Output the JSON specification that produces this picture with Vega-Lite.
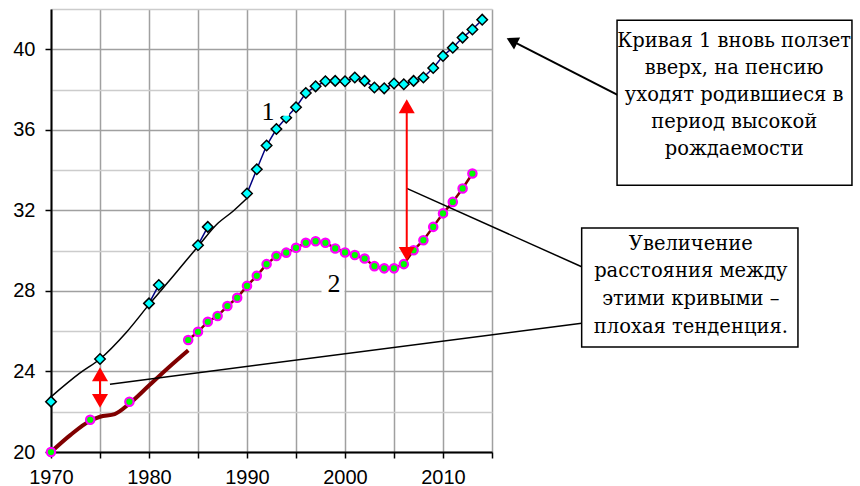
{
  "$schema": "https://vega.github.io/schema/vega-lite/v6.json",
  "width": 441,
  "height": 443,
  "autosize": "none",
  "padding": {"left": 51, "top": 9, "right": 368, "bottom": 34},
  "background": "white",
  "config": {"view": {"stroke": null}, "font": "Liberation Sans"},
  "datasets": {
    "s1": [
      {"x": 1970, "y": 22.5, "g": null},
      {"x": 1975, "y": 24.62, "g": null},
      {"x": 1980, "y": 27.38, "g": "a"},
      {"x": 1981, "y": 28.29, "g": "a"},
      {"x": 1985, "y": 30.27, "g": "b"},
      {"x": 1986, "y": 31.18, "g": "b"},
      {"x": 1990, "y": 32.84, "g": "c"},
      {"x": 1991, "y": 34.04, "g": "c"},
      {"x": 1992, "y": 35.22, "g": "c"},
      {"x": 1993, "y": 36.04, "g": "c"},
      {"x": 1994, "y": 36.6, "g": "c"},
      {"x": 1995, "y": 37.12, "g": "c"},
      {"x": 1996, "y": 37.83, "g": "c"},
      {"x": 1997, "y": 38.16, "g": "c"},
      {"x": 1998, "y": 38.41, "g": "c"},
      {"x": 1999, "y": 38.43, "g": "c"},
      {"x": 2000, "y": 38.41, "g": "c"},
      {"x": 2001, "y": 38.6, "g": "c"},
      {"x": 2002, "y": 38.43, "g": "c"},
      {"x": 2003, "y": 38.1, "g": "c"},
      {"x": 2004, "y": 38.06, "g": "c"},
      {"x": 2005, "y": 38.3, "g": "c"},
      {"x": 2006, "y": 38.26, "g": "c"},
      {"x": 2007, "y": 38.43, "g": "c"},
      {"x": 2008, "y": 38.6, "g": "c"},
      {"x": 2009, "y": 39.07, "g": "c"},
      {"x": 2010, "y": 39.67, "g": "c"},
      {"x": 2011, "y": 40.08, "g": "c"},
      {"x": 2012, "y": 40.58, "g": "c"},
      {"x": 2013, "y": 40.98, "g": "c"},
      {"x": 2014, "y": 41.47, "g": "c"}
    ],
    "s2": [
      {"x": 1970, "y": 20.0, "g": null},
      {"x": 1974, "y": 21.6, "g": null},
      {"x": 1978, "y": 22.5, "g": null},
      {"x": 1984, "y": 25.56, "g": "a"},
      {"x": 1985, "y": 25.97, "g": "a"},
      {"x": 1986, "y": 26.47, "g": "a"},
      {"x": 1987, "y": 26.75, "g": "a"},
      {"x": 1988, "y": 27.25, "g": "a"},
      {"x": 1989, "y": 27.66, "g": "a"},
      {"x": 1990, "y": 28.25, "g": "a"},
      {"x": 1991, "y": 28.75, "g": "a"},
      {"x": 1992, "y": 29.33, "g": "a"},
      {"x": 1993, "y": 29.73, "g": "a"},
      {"x": 1994, "y": 29.9, "g": "a"},
      {"x": 1995, "y": 30.14, "g": "a"},
      {"x": 1996, "y": 30.39, "g": "a"},
      {"x": 1997, "y": 30.47, "g": "a"},
      {"x": 1998, "y": 30.39, "g": "a"},
      {"x": 1999, "y": 30.11, "g": "a"},
      {"x": 2000, "y": 29.91, "g": "a"},
      {"x": 2001, "y": 29.78, "g": "a"},
      {"x": 2002, "y": 29.61, "g": "a"},
      {"x": 2003, "y": 29.23, "g": "a"},
      {"x": 2004, "y": 29.12, "g": "a"},
      {"x": 2005, "y": 29.12, "g": "a"},
      {"x": 2006, "y": 29.33, "g": "a"},
      {"x": 2007, "y": 30.02, "g": "a"},
      {"x": 2008, "y": 30.52, "g": "a"},
      {"x": 2009, "y": 31.18, "g": "a"},
      {"x": 2010, "y": 31.85, "g": "a"},
      {"x": 2011, "y": 32.42, "g": "a"},
      {"x": 2012, "y": 33.09, "g": "a"},
      {"x": 2013, "y": 33.83, "g": "a"}
    ],
    "trend1": [
      {"x": 1970, "y": 22.74},
      {"x": 1972.9, "y": 23.9},
      {"x": 1975, "y": 24.62},
      {"x": 1977.7, "y": 25.95},
      {"x": 1980.1, "y": 27.38},
      {"x": 1982.5, "y": 28.75},
      {"x": 1985.1, "y": 30.27},
      {"x": 1986.9, "y": 31.3},
      {"x": 1988.6, "y": 31.97},
      {"x": 1990, "y": 32.6}
    ],
    "trend2": [
      {"x": 1970, "y": 20.0},
      {"x": 1972, "y": 20.85},
      {"x": 1974, "y": 21.55},
      {"x": 1975, "y": 21.75},
      {"x": 1976.5, "y": 21.88},
      {"x": 1978, "y": 22.4},
      {"x": 1980, "y": 23.3},
      {"x": 1982, "y": 24.2},
      {"x": 1984, "y": 25.05}
    ],
    "gap": [
      {"x": 1975, "y": 23.86, "y2": 22.54},
      {"x": 2006.3, "y": 37.17, "y2": 29.84}
    ],
    "heads": [
      {"x": 1975, "y": 23.86, "end": "top"},
      {"x": 1975, "y": 22.54, "end": "bottom"},
      {"x": 2006.3, "y": 37.17, "end": "top"},
      {"x": 2006.3, "y": 29.84, "end": "bottom"}
    ],
    "leaders": [
      {"x": 2006.3, "y": 33.09, "x2": 2024.15, "y2": 29.2},
      {"x": 1976.02, "y": 23.37, "x2": 2024.15, "y2": 26.39}
    ],
    "pointer": [{"x": 2027.86, "y": 37.72, "x2": 2017.03, "y2": 40.42}],
    "pointerHead": [{"x": 2017.03, "y": 40.42}],
    "boxes": [
      {"x": 2027.76, "x2": 2051.73, "y": 41.44, "y2": 33.25},
      {"x": 2024.15, "x2": 2046.22, "y": 31.12, "y2": 25.21}
    ],
    "boxText1": [
      {"x": 2039.71, "y": 40.88, "t": ["Кривая 1 вновь ползет", "вверх, на пенсию", "уходят родившиеся в", "период высокой", "рождаемости"]}
    ],
    "boxText2": [
      {"x": 2035.29, "y": 30.79, "t": ["Увеличение", "расстояния между", "этими кривыми –", "плохая тенденция."]}
    ],
    "labelBg": [
      {"x": 1991.0, "x2": 1994.3, "y": 37.87, "y2": 36.7},
      {"x": 1997.6, "x2": 1999.95, "y": 29.1, "y2": 27.9}
    ],
    "labels": [
      {"x": 1992.14, "y": 36.48, "t": "1"},
      {"x": 1998.88, "y": 27.94, "t": "2"}
    ]
  },
  "encoding": {
    "x": {
      "field": "x",
      "type": "quantitative",
      "scale": {"domain": [1970, 2015], "nice": false, "zero": false},
      "axis": {
        "title": null,
        "values": [1970, 1975, 1980, 1985, 1990, 1995, 2000, 2005, 2010, 2015],
        "format": "d",
        "labelExpr": "datum.value % 10 === 0 ? datum.label : ''",
        "grid": true,
        "gridColor": "#a0a0a0",
        "gridWidth": 1.5,
        "domainColor": "black",
        "domainWidth": 2,
        "tickColor": "black",
        "tickWidth": 1.5,
        "tickSize": 6,
        "labelFont": "Liberation Sans",
        "labelFontSize": 20,
        "labelColor": "black",
        "labelPadding": 9,
        "labelFlush": false,
        "labelOverlap": false
      }
    },
    "y": {
      "field": "y",
      "type": "quantitative",
      "scale": {"domain": [20, 42], "nice": false, "zero": false},
      "axis": {
        "title": null,
        "values": [20, 22, 24, 26, 28, 30, 32, 34, 36, 38, 40, 42],
        "labelExpr": "datum.value % 4 === 0 ? datum.label : ''",
        "grid": true,
        "gridColor": {"condition": {"test": "datum.value % 4 === 0", "value": "#a0a0a0"}, "value": "#cccccc"},
        "gridWidth": 1.5,
        "domainColor": "black",
        "domainWidth": 2,
        "tickColor": "black",
        "tickWidth": 1.5,
        "tickSize": 6,
        "tickOpacity": {"condition": {"test": "datum.value % 4 === 0", "value": 1}, "value": 0},
        "labelFont": "Liberation Sans",
        "labelFontSize": 20,
        "labelColor": "black",
        "labelPadding": 10,
        "labelFlush": false,
        "labelOverlap": false
      }
    }
  },
  "layer": [
    {"data": {"name": "trend1"}, "mark": {"type": "line", "color": "black", "strokeWidth": 1.5, "interpolate": "monotone"}, "encoding": {}},
    {"data": {"name": "trend2"}, "mark": {"type": "line", "color": "#800000", "strokeWidth": 4, "interpolate": "monotone"}, "encoding": {}},
    {"data": {"name": "s1"}, "transform": [{"filter": "datum.g != null"}], "mark": {"type": "line", "color": "#000080", "strokeWidth": 1.5}, "encoding": {"detail": {"field": "g"}}},
    {"data": {"name": "s2"}, "transform": [{"filter": "datum.g != null"}], "mark": {"type": "line", "color": "#800000", "strokeWidth": 2.5}, "encoding": {"detail": {"field": "g"}}},
    {"data": {"name": "s1"}, "mark": {"type": "point", "shape": "diamond", "size": 110, "filled": true, "fill": "#00ffff", "stroke": "black", "strokeWidth": 1.5, "opacity": 1}, "encoding": {}},
    {"data": {"name": "s2"}, "mark": {"type": "point", "shape": "circle", "size": 70, "filled": true, "fill": "#00ff00", "stroke": "#ff00ff", "strokeWidth": 2.2, "opacity": 1}, "encoding": {}},
    {"data": {"name": "leaders"}, "mark": {"type": "rule", "color": "black", "strokeWidth": 1.5}, "encoding": {"x2": {"field": "x2"}, "y2": {"field": "y2"}}},
    {"data": {"name": "gap"}, "mark": {"type": "rule", "color": "#ff0000", "strokeWidth": 2}, "encoding": {"y2": {"field": "y2"}}},
    {"data": {"name": "heads"}, "mark": {"type": "point", "size": 256, "filled": true, "fill": "#ff0000", "stroke": null, "opacity": 1}, "encoding": {"shape": {"field": "end", "type": "nominal", "scale": {"domain": ["top", "bottom"], "range": ["triangle-up", "triangle-down"]}, "legend": null}}},
    {"data": {"name": "pointer"}, "mark": {"type": "rule", "color": "black", "strokeWidth": 2}, "encoding": {"x2": {"field": "x2"}, "y2": {"field": "y2"}}},
    {"data": {"name": "pointerHead"}, "mark": {"type": "point", "shape": "triangle-up", "angle": 297, "size": 180, "filled": true, "fill": "black", "stroke": null, "opacity": 1}, "encoding": {}},
    {"data": {"name": "boxes"}, "mark": {"type": "rect", "fill": "white", "stroke": "black", "strokeWidth": 1.5}, "encoding": {"x2": {"field": "x2"}, "y2": {"field": "y2"}}},
    {"data": {"name": "boxText1"}, "mark": {"type": "text", "font": "DejaVu Serif", "fontSize": 19.5, "lineHeight": 27.1, "align": "center", "baseline": "top", "color": "black"}, "encoding": {"text": {"field": "t"}}},
    {"data": {"name": "boxText2"}, "mark": {"type": "text", "font": "DejaVu Serif", "fontSize": 19.5, "lineHeight": 27.7, "align": "center", "baseline": "top", "color": "black"}, "encoding": {"text": {"field": "t"}}},
    {"data": {"name": "labelBg"}, "mark": {"type": "rect", "fill": "white", "stroke": null}, "encoding": {"x2": {"field": "x2"}, "y2": {"field": "y2"}}},
    {"data": {"name": "labels"}, "mark": {"type": "text", "font": "Liberation Serif", "fontSize": 26, "align": "center", "baseline": "alphabetic", "color": "black"}, "encoding": {"text": {"field": "t"}}}
  ]
}
